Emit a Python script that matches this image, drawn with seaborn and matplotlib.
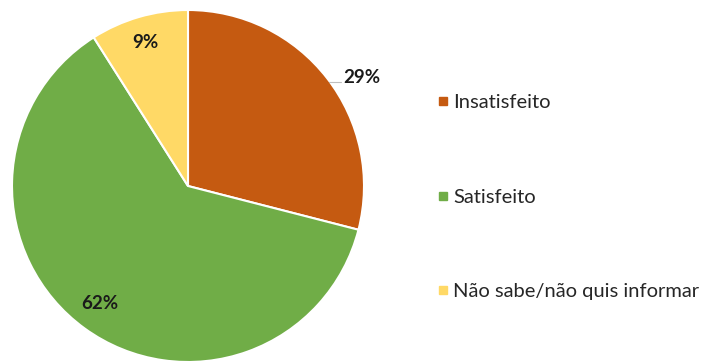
import matplotlib
matplotlib.use("Agg")
import matplotlib.pyplot as plt
import seaborn as sns
from matplotlib.lines import Line2D

categories = ["Insatisfeito", "Satisfeito", "Não sabe/não quis informar"]
values = [29, 62, 9]
colors = ["#C55A11", "#70AD47", "#FFD966"]

sns.set_style("white")
plt.rcParams["font.family"] = ["Lato", "DejaVu Sans"]

fig = plt.figure(figsize=(7.01, 3.61), dpi=100)
# pie axes: radius ~176 px, centre ~ (188, 175 from bottom)
ax = fig.add_axes([12 / 701, -1 / 361, 352 / 701, 352 / 361])
wedges, _ = ax.pie(values, colors=colors, startangle=90, counterclock=False,
                   radius=1, wedgeprops=dict(edgecolor="white", linewidth=1.5))
ax.set_xlim(-1, 1)
ax.set_ylim(-1, 1)
ax.set_aspect("equal")
ax.axis("off")

# percentage labels
lbl_pos = [(0.99, 0.615), (-0.5, -0.665), (-0.24, 0.815)]
for v, (x, y) in zip(values, lbl_pos):
    ax.text(x, y, f"{v}%", ha="center", va="center", fontsize=13.5,
            fontweight="bold", color="#1a1a1a", clip_on=False)
# leader line for 29%
ax.plot([0.8, 0.87], [0.59, 0.59], color="#bfbfbf", lw=0.8, clip_on=False)

handles = [Line2D([0], [0], marker="s", linestyle="", markersize=5.5,
                  markerfacecolor=c, markeredgecolor=c) for c in colors]
fig.legend(handles, categories, loc="upper left", bbox_to_anchor=(427 / 701, 1 - 86 / 361),
           frameon=False, fontsize=14.5, labelspacing=3.85, handletextpad=0.1,
           handlelength=0.8, borderaxespad=0)

fig.savefig("out.png", dpi=100)
